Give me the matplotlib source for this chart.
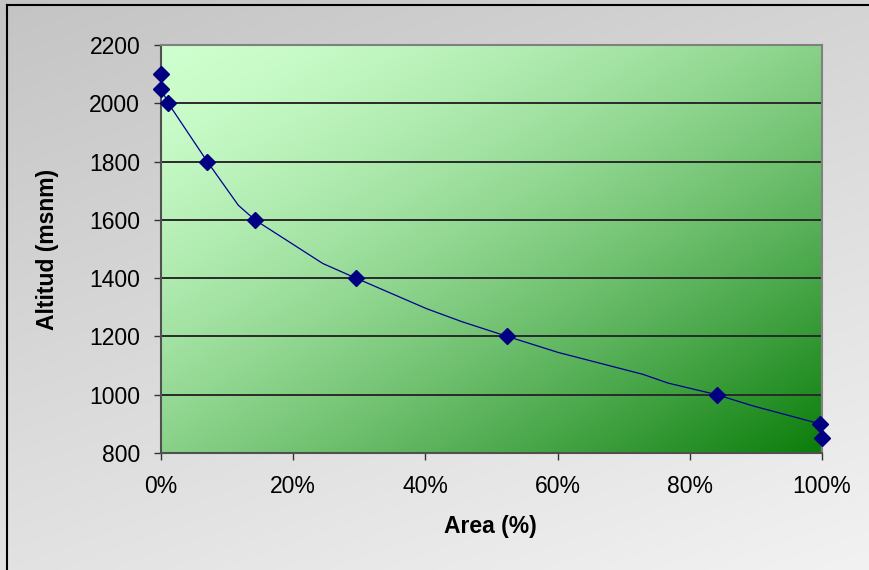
import numpy as np
import matplotlib
matplotlib.use("Agg")
import matplotlib.pyplot as plt
from matplotlib.ticker import PercentFormatter, FixedLocator
from matplotlib.lines import Line2D

# Marker data (area %, altitude m)
marker_area = [0.0, 0.0, 1.1, 7.0, 14.2, 29.5, 52.4, 84.1, 99.7, 100.0]
marker_alt = [2100, 2050, 2000, 1800, 1600, 1400, 1200, 1000, 900, 850]

# Curve nodes
line_area = [0.0, 0.0, 1.1, 7.0, 11.7, 14.2, 24.5, 29.5, 40.2, 45.6, 52.4,
             60.1, 72.9, 76.7, 84.1, 89.5, 99.7]
line_alt = [2100, 2050, 2000, 1800, 1650, 1600, 1450, 1400, 1295, 1250, 1200,
            1145, 1070, 1040, 1000, 962, 900]

x_ticks = [0, 20, 40, 60, 80, 100]
y_ticks = [800, 1000, 1200, 1400, 1600, 1800, 2000, 2200]

plt.rcParams['font.family'] = ['Liberation Sans', 'DejaVu Sans']

W, H = 870, 570
fig = plt.figure(figsize=(W / 100, H / 100), dpi=100)

# figure background gradient (gray)
bg = fig.add_axes([0, 0, 1, 1], zorder=-10)
yy, xx = np.mgrid[0:1:200j, 0:1:300j]
t = np.clip(0.35 * xx + 0.65 * yy, 0, 1)
c0 = np.array([196, 196, 196]) / 255.0
c1 = np.array([242, 242, 242]) / 255.0
img = c0[None, None, :] * (1 - t[..., None]) + c1[None, None, :] * t[..., None]
bg.imshow(img, extent=[0, 1, 0, 1], origin='upper', aspect='auto')
bg.set_xlim(0, 1)
bg.set_ylim(0, 1)
bg.axis('off')
# outer border (top and left)
bg.add_line(Line2D([7 / W, 7 / W], [0, 1 - 5 / H], color='black', lw=1.5))
bg.add_line(Line2D([7 / W, 1], [1 - 5 / H, 1 - 5 / H], color='black', lw=1.5))

ax = fig.add_axes([161 / W, 1 - 453 / H, (822 - 161) / W, (453 - 45) / H])

# plot area gradient (green, diagonal)
gy, gx = np.mgrid[0:1:200j, 0:1:300j]
s = np.clip((gx + gy) / 2.0, 0, 1) ** 1.5
g0 = np.array([206, 255, 206]) / 255.0
g1 = np.array([10, 125, 10]) / 255.0
gimg = g0[None, None, :] * (1 - s[..., None]) + g1[None, None, :] * s[..., None]
ax.imshow(gimg, extent=[0, 1, 0, 1], transform=ax.transAxes, origin='upper',
          aspect='auto', zorder=0)
ax.set_xlim(0, 100)
ax.set_ylim(800, 2200)

for yv in y_ticks[1:-1]:
    ax.axhline(yv, color='#2a2a2a', lw=1.4, zorder=1)

ax.plot(line_area, line_alt, color='#000090', lw=0.9, zorder=3, clip_on=False)
ax.plot(marker_area, marker_alt, linestyle='none', marker='D', markersize=8.5,
        color='#000080', markeredgecolor='#000080', zorder=4, clip_on=False)

ax.xaxis.set_major_locator(FixedLocator(x_ticks))
ax.yaxis.set_major_locator(FixedLocator(y_ticks))
ax.xaxis.set_major_formatter(PercentFormatter(100, decimals=0))
ax.tick_params(axis='both', direction='out', length=5, width=1, color='#333333',
               labelsize=16.5, labelcolor='black')
ax.tick_params(axis='x', pad=11)
ax.tick_params(axis='y', pad=10)

for side in ['left', 'bottom']:
    ax.spines[side].set_color('#505050')
    ax.spines[side].set_linewidth(1.5)
for side in ['top', 'right']:
    ax.spines[side].set_color('#808080')
    ax.spines[side].set_linewidth(1.5)

fig.text(490 / W, 1 - 527 / H, 'Area (%)', ha='center', va='center',
         fontsize=16.5, fontweight='bold')
fig.text(48 / W, 1 - 249 / H, 'Altitud (msnm)', ha='center', va='center',
         fontsize=16.5, fontweight='bold', rotation=90)

fig.savefig('out.png', dpi=100)
